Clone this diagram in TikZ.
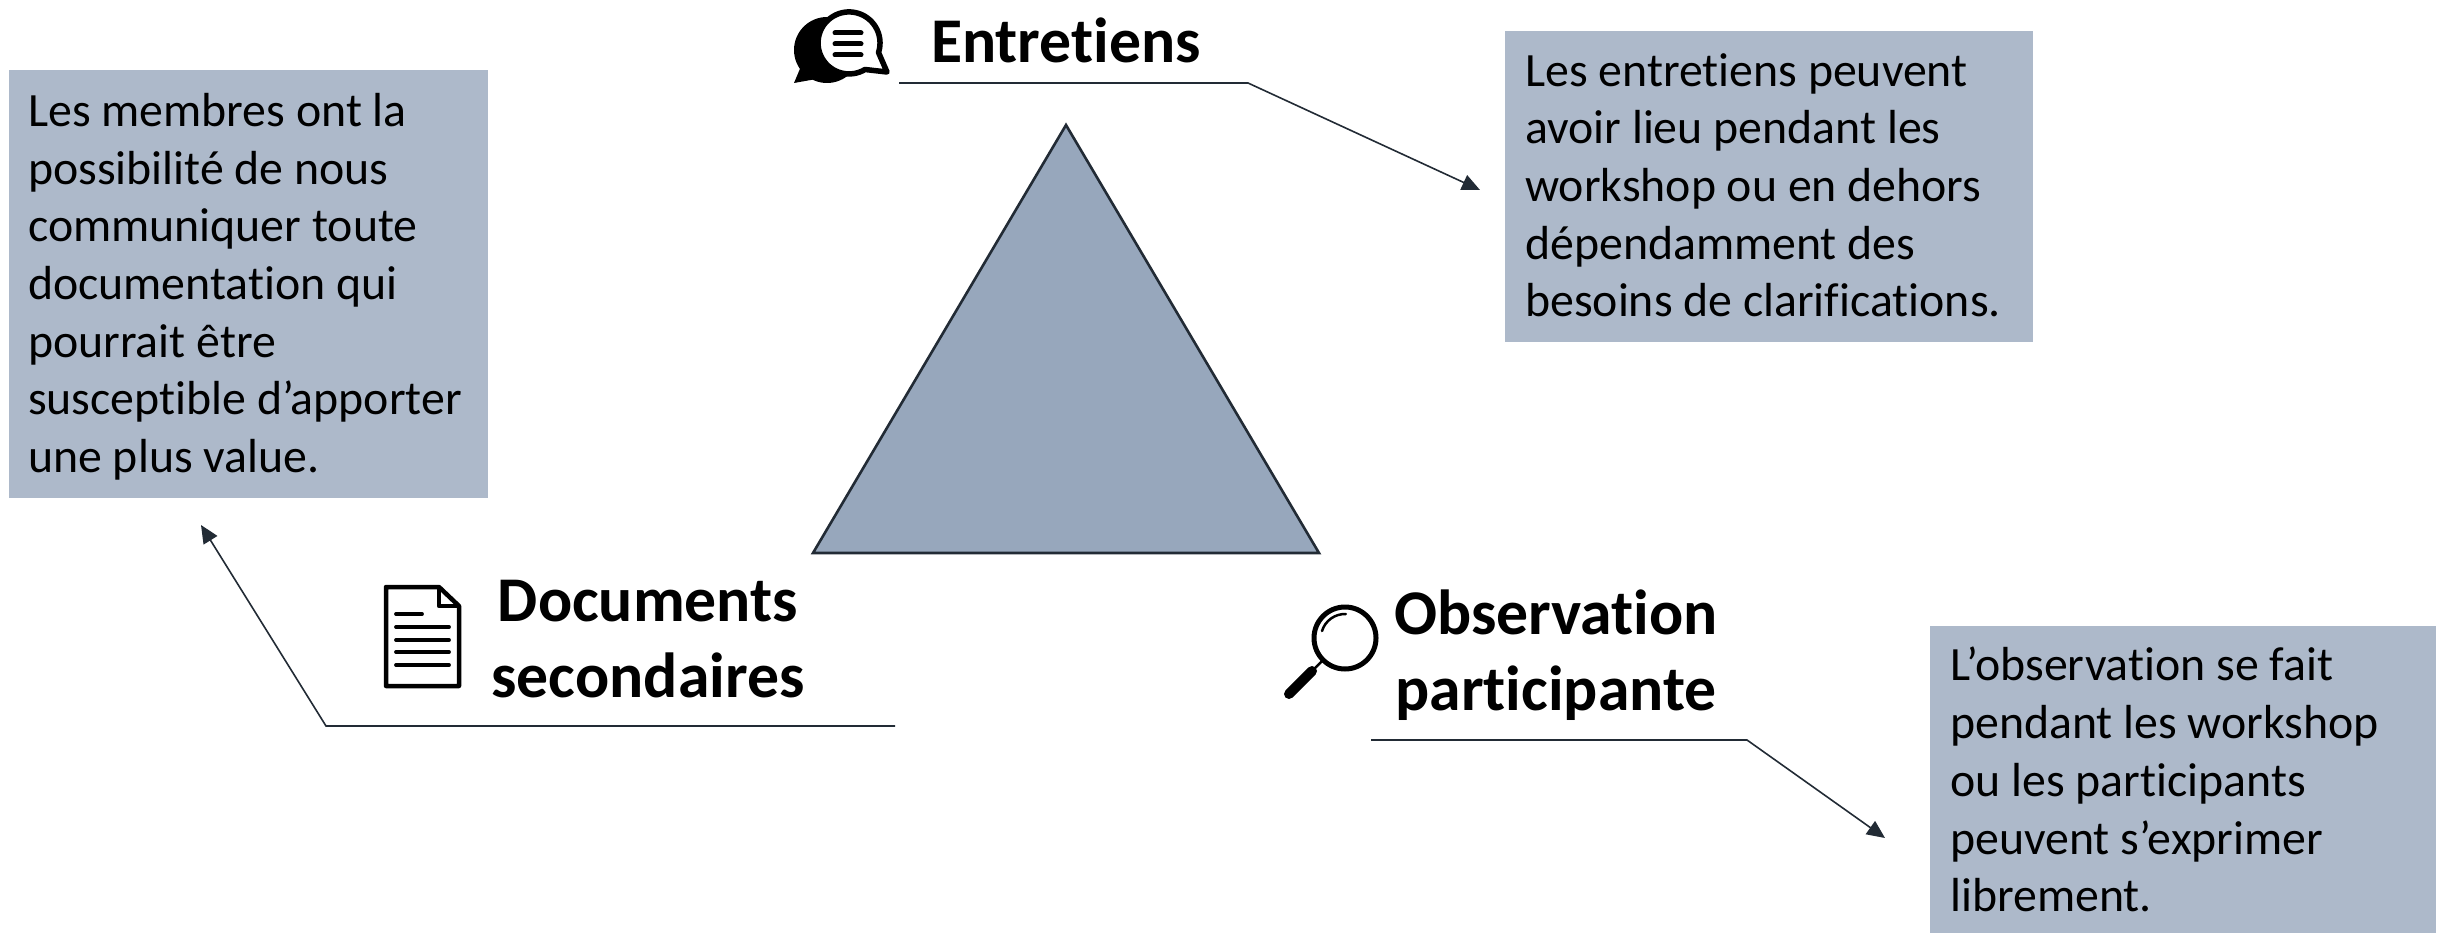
\documentclass[tikz,border=0pt]{standalone}
\usepackage{fontspec}
\setmainfont{Carlito}[Ligatures=NoCommon]
\usetikzlibrary{arrows.meta}
\definecolor{boxc}{HTML}{ADB9CA}
\definecolor{trifill}{HTML}{97A7BC}
\definecolor{linec}{HTML}{222B35}
\tikzset{
  infotext/.style={anchor=north west,align=left,inner sep=0pt,font=\fontsize{47.8}{57.7}\selectfont,text=black},
  headtext/.style={align=center,inner sep=0pt,font=\fontsize{63.7}{76.5}\selectfont\bfseries,text=black},
  leader/.style={draw=linec,line width=1.6pt,-{Triangle[length=18pt,width=16pt]}},
  tri/.style={draw=linec,line width=2.6pt,fill=trifill,line join=miter},
}
\begin{document}
\begin{tikzpicture}[x=1pt,y=-1pt]
\useasboundingbox (0,0) rectangle (2448,933);
% triangle
\coordinate (ta) at (1066,125);
\coordinate (tb) at (813,553);
\coordinate (tc) at (1319,553);
\draw[tri] (ta) -- (tb) -- (tc) -- cycle;
% boxes
\fill[boxc] (9,70) rectangle (488,498);
\fill[boxc] (1505,31) rectangle (2033,342);
\fill[boxc] (1930,626) rectangle (2436,933);
% texts
\node[infotext] (tl) at (28,93) {Les membres ont la\\possibilité de nous\\communiquer toute\\documentation qui\\pourrait être\\susceptible d’apporter\\une plus value.};
\node[infotext] (tr) at (1525,53) {Les entretiens peuvent\\avoir lieu pendant les\\workshop ou en dehors\\dépendamment des\\besoins de clarifications.};
\node[infotext] (br) at (1950,647) {L’observation se fait\\pendant les workshop\\ou les participants\\peuvent s’exprimer\\librement.};
% headings
\node[headtext] (h1) at (1066,40) {Entretiens};
\node[headtext] (h2) at (648,639) {Documents\\secondaires};
\node[headtext] (h3) at (1556,655) {Observation\\participante};
% leaders
\coordinate (a1) at (899,83);
\coordinate (a2) at (1248,83);
\coordinate (a3) at (1480,190);
\coordinate (b1) at (895,726);
\coordinate (b2) at (326,726);
\coordinate (b3) at (201,525);
\coordinate (c1) at (1371,740);
\coordinate (c2) at (1747,740);
\coordinate (c3) at (1885,838);
\draw[leader] (a1) -- (a2) -- (a3);
\draw[leader] (b1) -- (b2) -- (b3);
\draw[leader] (c1) -- (c2) -- (c3);
% speech bubble icon
\fill[black] (827,50) circle (33);
\fill[black] (802,64) -- (794,83) -- (822,78) -- cycle;
\filldraw[fill=white,draw=black,line width=5.5pt,line join=round]
  (865,69.5) arc[start angle=59,end angle=378,radius=31] -- (887,72) -- cycle;
\draw[line width=5pt,line cap=round] (835,33) -- (861,33) (835,44) -- (861,44) (835,55) -- (861,55);
% document icon
\draw[black,line width=4.5pt,line join=round] (386,587) -- (439,587) -- (459,606) -- (459,686) -- (386,686) -- cycle;
\draw[black,line width=4.5pt,line join=round] (439,587) -- (439,606) -- (459,606);
\draw[black,line width=3.8pt,line cap=round] (396,614) -- (422,614) (396,627) -- (449,627) (396,640) -- (449,640) (396,652) -- (449,652) (396,665) -- (449,665);
% magnifier icon
\draw[black,line width=5pt] (1345,638) circle (31);
\draw[black,line width=2.5pt,line cap=round] (1322,661) -- (1310,673);
\draw[black,line width=10pt,line cap=round] (1312,671) -- (1289,694);
\draw[black,line width=2.5pt,line cap=round] (1322,631) arc[start angle=197,end angle=272,radius=24];
\end{tikzpicture}
\end{document}
